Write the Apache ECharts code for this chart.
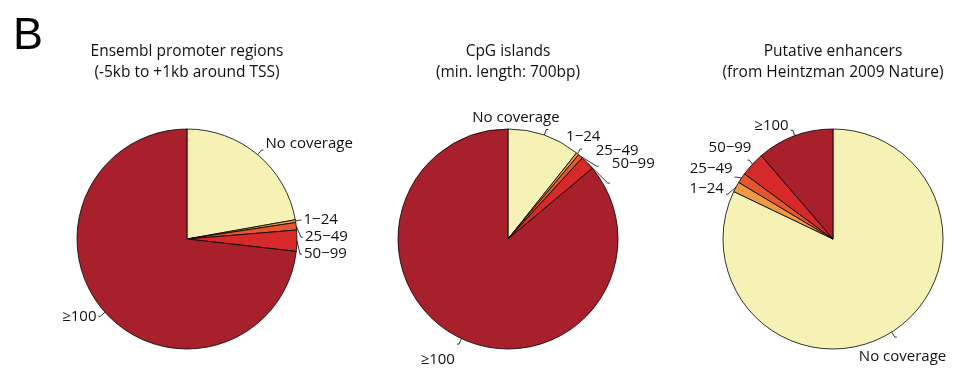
<!DOCTYPE html>
<html>
<head>
<meta charset="utf-8">
<script src="https://cdn.jsdelivr.net/npm/echarts@6/dist/echarts.min.js"></script>
<style>
  html, body { margin: 0; padding: 0; background: #fff; }
  #chart { width: 955px; height: 381px; }
</style>
</head>
<body>
<div id="chart"></div>
<script>
// Coverage bins, in the order the slices run clockwise from 12 o'clock
const bins = ['No coverage', '1−24', '25−49', '50−99', '≥100'];
const binColors = ['#F6F2B6', '#F09A45', '#E4572E', '#D6292A', '#A7202C'];

// Share of regions (%) per coverage bin
const promoterShares = [22.2, 0.4, 1.1, 3.1, 73.2];
const cpgShares = [10.7, 0.4, 0.7, 2.1, 86.1];
const enhancerShares = [82.1, 1.5, 1.5, 3.6, 11.3];

const panelTitles = [
  'Ensembl promoter regions\n(-5kb to +1kb around TSS)',
  'CpG islands\n(min. length: 700bp)',
  'Putative enhancers\n(from Heintzman 2009 Nature)'
];

const FONT = '"Open Sans", "Noto Sans", sans-serif';
const centersX = [187, 508, 833];
const centerY = 239;

// Nudges (dx, dy) for labels that would otherwise crowd each other or the edge
const labelNudges = [
  { 0: [0, -6] },
  { 0: [-78, -12], 1: [-18, -12], 2: [-5, -15], 3: [0, -19], 4: [0, 16] },
  { 0: [-40, 20], 1: [0, -5], 2: [0, -8], 3: [6, -12], 4: [0, -4] }
];

function pieSeries(values, cx, nudges) {
  return {
    type: 'pie',
    left: 0, top: 0, width: 1400, height: 381,
    center: [cx, centerY],
    radius: [0, 110],
    startAngle: 90,
    clockwise: true,
    animation: false,
    silent: true,
    avoidLabelOverlap: true,
    minShowLabelAngle: 0,
    itemStyle: { borderColor: '#000', borderWidth: 0.8 },
    label: {
      show: true,
      position: 'outside',
      formatter: '{b}',
      fontFamily: FONT,
      fontSize: 15,
      color: '#111',
      overflow: 'none',
      distanceToLabelLine: 2
    },
    labelLine: {
      show: true,
      length: 6,
      length2: 2,
      lineStyle: { color: '#000', width: 0.8 }
    },
    labelLayout: function (params) {
      const n = nudges[params.dataIndex];
      return n ? { dx: n[0], dy: n[1] } : {};
    },
    emphasis: { disabled: true },
    data: bins.map((name, i) => ({
      name: name,
      value: values[i],
      itemStyle: { color: binColors[i] }
    }))
  };
}

const chart = echarts.init(document.getElementById('chart'), null, { renderer: 'canvas' });
chart.setOption({
  backgroundColor: '#ffffff',
  title: [
    {
      text: 'B',
      left: 13, top: 14, padding: 0,
      textStyle: { fontFamily: '"Liberation Sans", Arial, sans-serif', fontSize: 45, fontWeight: 'normal', color: '#000' }
    }
  ].concat(panelTitles.map((t, i) => ({
    text: t,
    left: centersX[i],
    top: 41,
    padding: 0,
    textAlign: 'center',
    textStyle: { fontFamily: FONT, fontSize: 15.5, fontWeight: 'normal', color: '#111', lineHeight: 21 }
  }))),
  series: [
    pieSeries(promoterShares, centersX[0], labelNudges[0]),
    pieSeries(cpgShares, centersX[1], labelNudges[1]),
    pieSeries(enhancerShares, centersX[2], labelNudges[2])
  ]
});
</script>
</body>
</html>
